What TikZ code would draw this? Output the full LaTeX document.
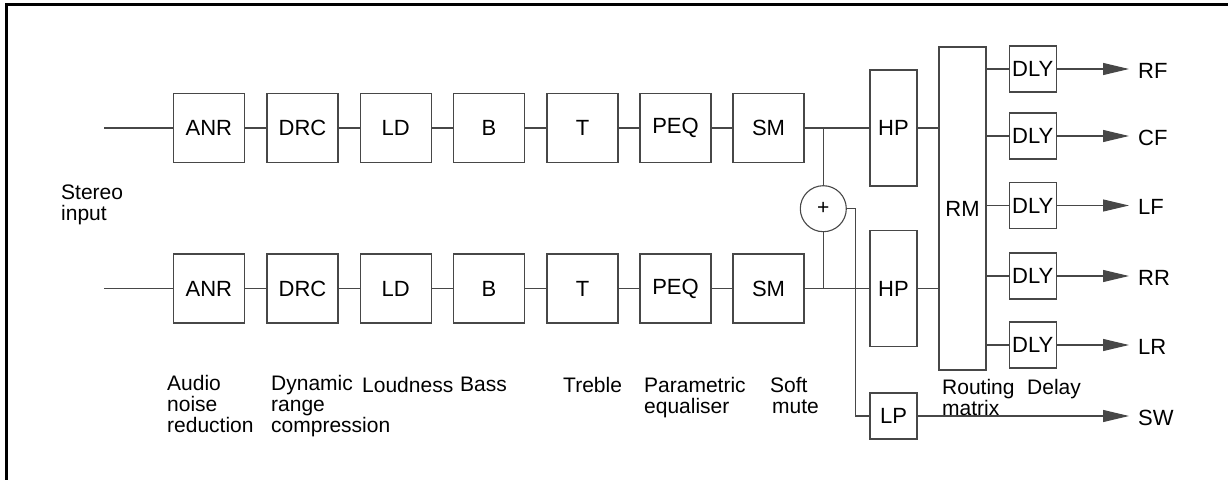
\documentclass[tikz,border=0pt]{standalone}
\usepackage{fontspec}
\setmainfont{Liberation Sans}
\usetikzlibrary{arrows.meta}
\begin{document}
\begin{tikzpicture}[x=1pt,y=-1pt,
  ln/.style={draw=black!72, line width=1.1pt},
  blk/.style={draw=black!72, line width=1.1pt, rectangle, inner sep=0pt, minimum width=71pt, minimum height=69pt, font=\fontsize{22}{23}\selectfont},
  tallbox/.style={blk, minimum width=47pt, minimum height=116pt},
  dlybox/.style={blk, minimum width=47pt, minimum height=46pt},
  lbl/.style={anchor=north west, inner sep=0pt, align=left, font=\fontsize{21}{21}\selectfont},
  outlbl/.style={anchor=west, inner sep=0pt, font=\fontsize{22}{23}\selectfont},
  outarrow/.style={ln, -{Triangle[length=26pt,width=12pt]}, shorten >=-0.5pt}
]
\useasboundingbox (0,0) rectangle (1228,479);
% frame
\draw[line width=3.3pt, line join=miter] (6.7,480) -- (6.7,4.8) -- (1229,4.8);

% rows
\foreach \n/\t/\x in {1/ANR/208.8, 2/DRC/302.5, 3/LD/395.7, 4/B/489, 5/T/582.5, 6/PEQ/675.5, 7/SM/768.5}{
  \node[blk] (a\n) at (\x,128) {\t};
  \node[blk] (b\n) at (\x,288.5) {\t};
}
\coordinate (ia) at (104,128);
\coordinate (ib) at (104,288.5);
\draw[ln] (ia) -- (a1);
\draw[ln] (ib) -- (b1);
\foreach \i/\j in {1/2,2/3,3/4,4/5,5/6,6/7}{
  \draw[ln] (a\i) -- (a\j);
  \draw[ln] (b\i) -- (b\j);
}

% HP, LP, sum
\node[tallbox] (hp1) at (893.5,128) {HP};
\node[tallbox] (hp2) at (893.5,288.5) {HP};
\node[blk, minimum width=47pt, minimum height=46pt] (lp) at (893.5,416) {LP};
\node[draw=black!72, line width=1.1pt, circle, minimum size=46pt, inner sep=0pt, font=\fontsize{21}{22}\selectfont] (sum) at (823.3,208.7) {+};
\coordinate (ja) at (823.3,128);
\coordinate (jb) at (823.3,288.5);
\coordinate (jc) at (855.5,208.7);
\draw[ln] (a7) -- (hp1);
\draw[ln] (b7) -- (hp2);
\draw[ln] (ja) -- (sum);
\draw[ln] (sum) -- (jb);
\draw[ln] (sum) -- (jc) |- (lp);

% routing matrix
\node[blk, minimum width=47pt, minimum height=323pt] (rm) at (962.5,208.5) {RM};
\draw[ln] (hp1) -- (hp1 -| rm.west);
\draw[ln] (hp2) -- (hp2 -| rm.west);

% delays and outputs
\foreach \n/\y/\t in {1/69/RF, 2/136/CF, 3/205.5/LF, 4/276/RR, 5/345/LR}{
  \node[dlybox] (d\n) at (1032.7,\y) {DLY};
  \draw[ln] (d\n.west -| rm.east) -- (d\n);
  \coordinate (t\n) at (1128.5,\y);
  \draw[outarrow] (d\n) -- (t\n);
  \node[outlbl] (o\n) at (1138,\y+1.5) {\t};
}
\coordinate (tsw) at (1128.5,416);
\draw[outarrow] (lp) -- (tsw);
\node[outlbl] (osw) at (1138,417.5) {SW};

% labels
\node[lbl] (lin) at (61,185) {Stereo\\input};
\node[lbl] (l1) at (167,375) {Audio\\noise\\reduction};
\node[lbl] (l2) at (271,375) {Dynamic\\range\\compression};
\node[lbl] (l3) at (362,377) {Loudness};
\node[lbl] (l4) at (460,377) {Bass};
\node[lbl] (l5) at (563,377) {Treble};
\node[lbl] (l6) at (644,377) {Parametric\\equaliser};
\node[lbl] (l7) at (770,377) {Soft\\\hspace*{2pt}mute};
\node[lbl] (l8) at (942,379) {Routing\\matrix};
\node[lbl] (l9) at (1027,379) {Delay};
\end{tikzpicture}
\end{document}
